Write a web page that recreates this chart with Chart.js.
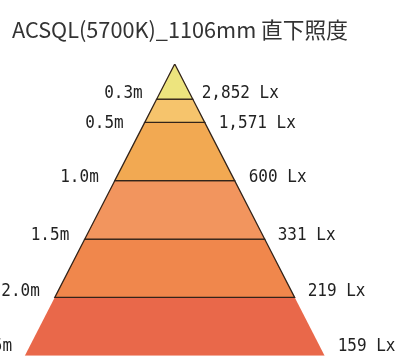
<!DOCTYPE html>
<html><head><meta charset="utf-8">
<script src="https://cdn.jsdelivr.net/npm/chart.js@4.4.1/dist/chart.umd.min.js"></script>
<style>html,body{margin:0;padding:0;background:#fff;}#wrap{width:398px;height:357px;}</style>
</head><body><div id="wrap"><canvas id="c" width="398" height="357"></canvas></div>
<script>
// Data
const titleText = 'ACSQL(5700K)_1106mm 直下照度';
const distances = [0.3, 0.5, 1.0, 1.5, 2.0, 2.5];          // m
const distanceLabels = ['0.3m', '0.5m', '1.0m', '1.5m', '2.0m', '2.5m'];
const illuminance = [2852, 1571, 600, 331, 219, 159];       // Lx
const bandColors = ['#EDE47E', '#F6C46C', '#F2A952', '#F2955E', '#F0874C', '#E9684A'];

// geometry / style
const spread = 0.514; // half-width per metre of distance (beam geometry)
const labelDy = [-5.5, 1, -3, -3.5, -6.5, -9.5];
const leftGap = [14, 21, 16, 15.5, 15, 12.7];
const rightGap = [9, 14, 14, 13, 13, 13];

const datasets = distances.map((d1, i) => {
  const d0 = i === 0 ? 0 : distances[i - 1];
  return {
    data: [
      {x: -spread * d0, y: d0}, {x: spread * d0, y: d0},
      {x: spread * d1, y: d1}, {x: -spread * d1, y: d1},
      {x: -spread * d0, y: d0}
    ],
    showLine: true,
    fill: 'shape',
    backgroundColor: bandColors[i],
    borderColor: '#33241a',
    borderWidth: i === distances.length - 1 ? 0 : 1.3,
    pointRadius: 0,
    tension: 0
  };
});

function drawText(ctx, text, x, y, align) {
  const sx = 0.89;
  ctx.save();
  ctx.translate(x, y);
  ctx.scale(sx, 1);
  ctx.textAlign = align;
  ctx.fillText(text, 0, 0);
  ctx.restore();
}

const labelPlugin = {
  id: 'pyramidLabels',
  afterDatasetsDraw(chart) {
    const ctx = chart.ctx, xs = chart.scales.x, ys = chart.scales.y;
    ctx.save();
    ctx.font = '18px "DejaVu Sans Mono", "Liberation Mono", monospace';
    ctx.fillStyle = '#222';
    ctx.textBaseline = 'middle';
    distances.forEach((d, i) => {
      const y = ys.getPixelForValue(d) + labelDy[i];
      const xl = xs.getPixelForValue(-spread * d);
      const xr = xs.getPixelForValue(spread * d);
      drawText(ctx, distanceLabels[i], xl - leftGap[i], y, 'right');
      drawText(ctx, illuminance[i].toLocaleString('en-US') + ' Lx', xr + rightGap[i], y, 'left');
    });
    ctx.restore();
  }
};

new Chart(document.getElementById('c'), {
  type: 'scatter',
  data: {datasets},
  options: {
    responsive: false,
    animation: false,
    layout: {padding: {left: 12, right: 0, top: 0, bottom: 1.3}},
    scales: {
      x: {type: 'linear', display: false, min: -1.395, max: 1.914},
      y: {type: 'linear', display: false, min: 0, max: 2.5, reverse: true}
    },
    plugins: {
      legend: {display: false},
      tooltip: {enabled: false},
      title: {
        display: true, text: titleText, align: 'start', color: '#333',
        font: {family: '"Noto Sans CJK JP", "Open Sans", sans-serif', size: 21.7, weight: 'normal', lineHeight: 1.2},
        padding: {top: 16.5, bottom: 21.5}
      }
    }
  },
  plugins: [labelPlugin]
});
</script></body></html>
